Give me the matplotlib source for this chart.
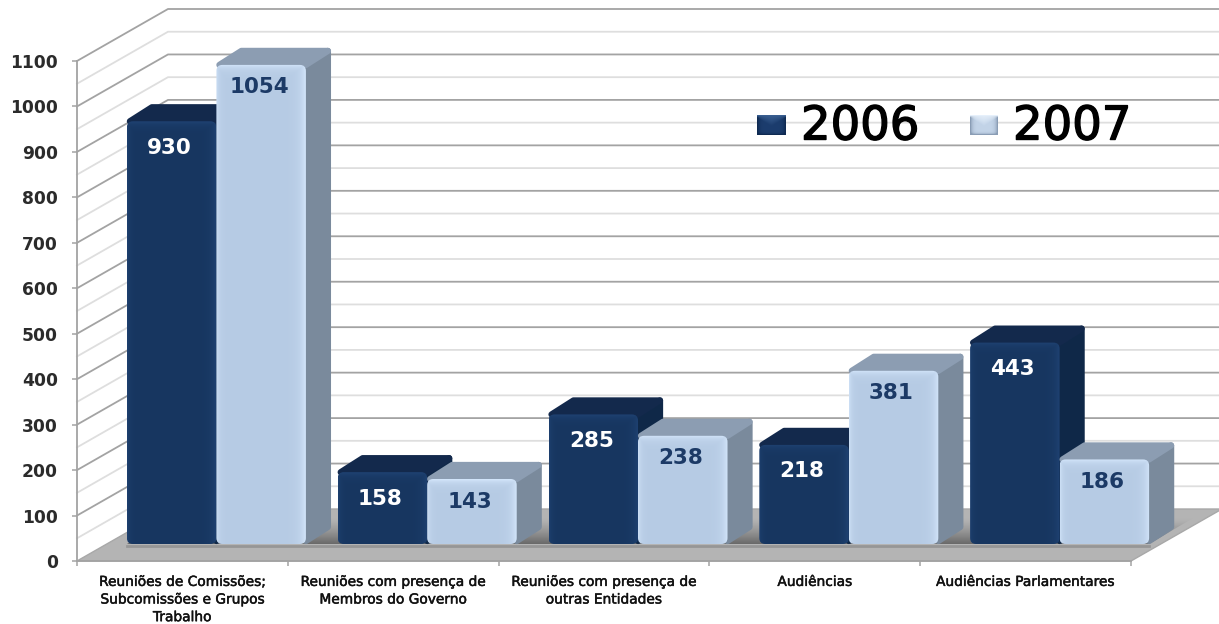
import numpy as np
import matplotlib
matplotlib.use('Agg')
import matplotlib.pyplot as plt
import matplotlib.patheffects as pe
from matplotlib.patches import Polygon, FancyBboxPatch

categories = ['Reuniões de Comissões;\nSubcomissões e Grupos\nTrabalho',
              'Reuniões com presença de\nMembros do Governo',
              'Reuniões com presença de\noutras Entidades',
              'Audiências',
              'Audiências Parlamentares']
values_2006 = [930, 158, 285, 218, 443]
values_2007 = [1054, 143, 238, 381, 186]
years = ['2006', '2007']
y_ticks = list(range(0, 1101, 100))

W, H = 1219, 624
# the 2d axes is the front plane of the fake 3d box
AX_LEFT, AX_RIGHT, AX_TOP, AX_BOTTOM = 77, 1131, 61, 561
PX_X = (AX_RIGHT - AX_LEFT) / len(categories)
PX_Y = (AX_BOTTOM - AX_TOP) / 1100

# colours: front base, front edge, side, top
DARK = ('#173660', '#1f4273', '#0f2848', '#13294c')
LIGHT = ('#b6cbe4', '#d3e5fa', '#7a8a9c', '#8c9db2')


def dx(px):
    return px / PX_X


def dy(px):
    return px / PX_Y


def hex_rgb(c):
    return np.array(matplotlib.colors.to_rgb(c))


def face_image(w, h, base, edge):
    # pillow shading of a bar front, stronger near left/right/top edges
    w, h = int(w), max(int(h), 2)
    xx, yy = np.meshgrid(np.arange(w), np.arange(h))
    t = np.maximum.reduce([np.exp(-xx / 3.0) * 0.7,
                           np.exp(-(w - 1 - xx) / 5.0),
                           np.exp(-yy / 4.0)])
    t = t[..., None]
    return hex_rgb(base) * (1 - t) + hex_rgb(edge) * t


fig = plt.figure(figsize=(W / 100, H / 100), dpi=100, facecolor='white')
ax = fig.add_axes([AX_LEFT / W, (H - AX_BOTTOM) / H,
                   (AX_RIGHT - AX_LEFT) / W, (AX_BOTTOM - AX_TOP) / H])
ax.patch.set_visible(False)

# walls
WALL_X, WALL_Y = dx(91), dy(52)
x_end = len(categories)
for v in np.arange(50, 1101, 50):
    major = v % 100 == 0
    col, z = ('#a3a3a3', 1.2) if major else ('#dedede', 1.1)
    ax.plot([0, WALL_X, x_end + WALL_X], [v, v + WALL_Y, v + WALL_Y],
            color=col, lw=1.3, zorder=z, clip_on=False, solid_joinstyle='miter')

# floor
ax.add_patch(Polygon([(0, 0), (x_end, 0), (x_end + WALL_X, WALL_Y), (WALL_X, WALL_Y)],
                     fc='#b4b4b4', ec='#a8a8a8', lw=1, zorder=2, clip_on=False))

# shadow of the bars on the floor
BASE_X, BASE_Y = dx(34), dy(17)
BAR_W = dx(89.5)
DEPTH_X, DEPTH_Y = dx(25), dy(17)
first = 0.5 + BASE_X - BAR_W
last = x_end - 0.5 + BASE_X + BAR_W
shadow = Polygon([(first, BASE_Y), (last, BASE_Y), (last + dx(44), BASE_Y + dy(26)),
                  (first + dx(44), BASE_Y + dy(26))],
                 fc='none', ec='none', zorder=2.1, clip_on=False)
ax.add_patch(shadow)
shade = np.linspace(0, 1, 30)[:, None, None]
shade_img = hex_rgb('#6a6a6a') * shade ** 1.3 + hex_rgb('#b4b4b4') * (1 - shade ** 1.3)
im = ax.imshow(shade_img, extent=(first, last + dx(44), BASE_Y, BASE_Y + dy(26)),
               aspect='auto', origin='upper', zorder=2.1, interpolation='bilinear')
im.set_clip_box(fig.bbox)
im.set_clip_path(shadow)
ax.plot([first, last], [BASE_Y - dy(2), BASE_Y - dy(2)], color='#969696', lw=2,
        zorder=2.2, clip_on=False)

# bars, series by series in each group so the nearer faces cover the sides
z = 3.0
EDGE = 3  # px taken off the polygons, the thick round edge brings it back
for i in range(len(categories)):
    centre = i + 0.5 + BASE_X
    for x0, val, cols, txt_col, lab_off in ((centre - BAR_W, values_2006[i], DARK, 'white', 26.5),
                                            (centre, values_2007[i], LIGHT, '#1c3a66', 22.5)):
        x1 = x0 + BAR_W
        top = BASE_Y + val
        bx = x1 + DEPTH_X - dx(EDGE)
        ty = top + DEPTH_Y - dy(EDGE)
        side = [(x1, BASE_Y + dy(EDGE)), (bx, BASE_Y + DEPTH_Y), (bx, ty), (x1, top)]
        roof = [(x0 + dx(EDGE), top), (x1, top), (bx, ty), (x0 + DEPTH_X, ty)]
        for poly, c, dz in ((side, cols[2], 0), (roof, cols[3], 0.01)):
            ax.add_patch(Polygon(poly, fc=c, ec=c, lw=4.5, joinstyle='round',
                                 zorder=z + dz, clip_on=False))
        r = dx(6)
        clip = FancyBboxPatch((x0, BASE_Y), BAR_W, val, boxstyle='round,pad=0,rounding_size=%f' % r,
                              mutation_aspect=PX_X / PX_Y, fc='none', ec='none',
                              zorder=z + 0.02, clip_on=False)
        ax.add_patch(clip)
        img = face_image(89.5, val * PX_Y, cols[0], cols[1])
        im = ax.imshow(img, extent=(x0, x1, BASE_Y, top), aspect='auto', origin='upper',
                       zorder=z + 0.02, interpolation='bilinear')
        im.set_clip_box(fig.bbox)
        im.set_clip_path(clip)
        ax.text((x0 + x1) / 2 - dx(2), top - dy(lab_off), str(val), color=txt_col,
                ha='center', va='center', fontsize=15.5, fontweight='bold',
                zorder=z + 0.03)
        z += 0.1

# axes
ax.set_xlim(0, x_end)
ax.set_ylim(0, 1100)
for s in ('top', 'right'):
    ax.spines[s].set_visible(False)
for s in ('left', 'bottom'):
    ax.spines[s].set_color('#a3a3a3')
    ax.spines[s].set_linewidth(1.3)
ax.set_yticks(y_ticks)
ax.set_xticks(range(x_end + 1))
ax.set_xticklabels([])
ax.set_xticks(np.arange(x_end) + 0.5, categories, minor=True, fontsize=9.9,
              color='#111111', linespacing=1.33, ha='center', va='top')
for t in ax.get_xticklabels(minor=True):
    t.set_path_effects([pe.withStroke(linewidth=0.35, foreground='#111111')])
ax.tick_params(axis='x', which='minor', length=0, pad=10)
ax.tick_params(axis='x', which='major', length=3.6, color='#a3a3a3', width=1.1)
ax.tick_params(axis='y', length=3.6, color='#a3a3a3', width=1.1, pad=10,
               labelsize=12.3, labelcolor='#2b2b2b')
for t in ax.get_yticklabels():
    t.set_fontweight('bold')

# legend
swatches = {years[0]: ('#1c3d6e', '#0f2a52', '#3a5f91'), years[1]: ('#c3d4e8', '#8a9db5', '#e6f0fb')}
for name, sw_left, txt_left, cols in ((years[0], 757, 801, DARK), (years[1], 970, 1013, LIGHT)):
    sw = fig.add_axes([sw_left / W, (H - 135) / H, 28 / W, 20 / H])
    sw.axis('off')
    mid, rim, shine = swatches[name]
    xx, yy = np.meshgrid(np.linspace(-1, 1, 28), np.linspace(0, 1, 20))
    rim_t = np.clip(np.abs(xx) ** 6 + (2 * yy - 1) ** 8, 0, 1)[..., None]
    shine_t = np.clip(1 - yy / (0.55 * (1 - np.abs(xx) * 0.8)), 0, 1)[..., None]
    sw_img = hex_rgb(mid) * (1 - rim_t) + hex_rgb(rim) * rim_t
    sw_img = sw_img * (1 - shine_t) + hex_rgb(shine) * shine_t
    sw.imshow(sw_img, aspect='auto', interpolation='bilinear')
    fig.text(txt_left / W, (H - 127) / H, name, color='black', fontsize=33.5,
             ha='left', va='center',
             path_effects=[pe.withStroke(linewidth=1.0, foreground='black')])

fig.savefig('out.png', dpi=100)
